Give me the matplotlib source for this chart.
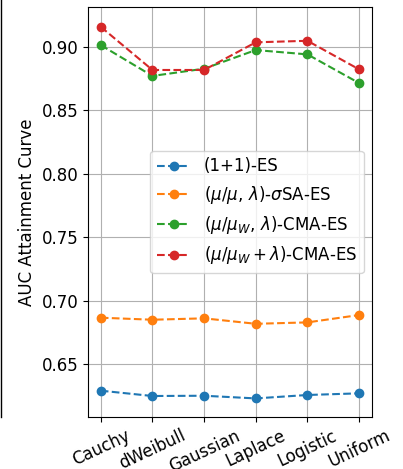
import numpy as np
import matplotlib
matplotlib.use('Agg')
import matplotlib.pyplot as plt
from matplotlib.lines import Line2D

plt.rcParams.update({
    'font.size': 12,
    'legend.fontsize': 12,
})

dists = ['Cauchy', 'dWeibull', 'Gaussian', 'Laplace', 'Logistic', 'Uniform']
one_plus_one = [0.629, 0.6248, 0.625, 0.6229, 0.6256, 0.6269]
sigma_sa = [0.6865, 0.6849, 0.686, 0.6817, 0.6828, 0.6886]
cma_comma = [0.9013, 0.877, 0.8827, 0.8974, 0.894, 0.8714]
cma_plus = [0.9157, 0.8817, 0.8817, 0.9035, 0.9047, 0.8822]

labels = [r'(1+1)-ES', r'$(\mu/\mu,\, \lambda)$-$\sigma$SA-ES',
          r'$(\mu/\mu_W,\, \lambda)$-CMA-ES', r'$(\mu/\mu_W + \lambda)$-CMA-ES']

fig = plt.figure(figsize=(4.03, 4.69), dpi=100)
ax = fig.add_axes([0.218, 0.111, 0.705, 0.874])
x = np.arange(len(dists))
for vals, lab in zip([one_plus_one, sigma_sa, cma_comma, cma_plus], labels):
    ax.plot(x, vals, 'o--', label=lab, markersize=6)
ax.set_xticks(x)
ax.set_xticklabels(dists, rotation=25)
ax.set_ylim(0.6083, 0.9313)
ax.set_yticks([0.65, 0.70, 0.75, 0.80, 0.85, 0.90])
ax.set_ylabel('AUC Attainment Curve')
ax.grid(True)
ax.legend(loc='center right')

# edge of neighbouring panel
fig.add_artist(Line2D([0.002, 0.002], [0.111, 1.0], color='black', linewidth=1.0))

fig.savefig('out.png', dpi=100)
